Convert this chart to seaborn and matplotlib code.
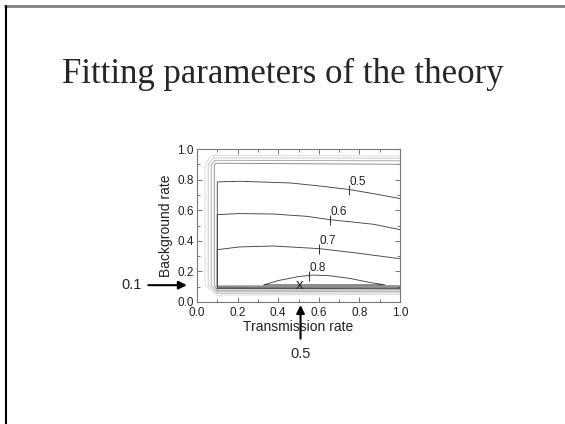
import pandas as pd
import seaborn as sns
import matplotlib.pyplot as plt
from matplotlib.ticker import MultipleLocator

# contour lines (transmission rate, background rate)
levels = ['0.1', '0.2', '0.3', '0.4', '0.5', '0.6', '0.7', '0.8']
c01_x = [1.0, 0.1, 0.04, 0.04, 0.07, 1.0]
c01_y = [0.05, 0.045, 0.11, 0.9, 0.958, 0.955]
c02_x = [1.0, 0.1, 0.055, 0.055, 0.08, 1.0]
c02_y = [0.06, 0.056, 0.11, 0.9, 0.942, 0.94]
c03_x = [1.0, 0.1, 0.07, 0.07, 0.09, 1.0]
c03_y = [0.07, 0.066, 0.11, 0.9, 0.926, 0.923]
c04_x = [1.0, 0.1, 0.085, 0.085, 0.095, 1.0]
c04_y = [0.08, 0.077, 0.11, 0.9, 0.907, 0.9]
c05_x = [1.0, 0.1, 0.1, 0.21, 0.46, 0.62, 0.75, 0.87, 1.0]
c05_y = [0.089, 0.088, 0.785, 0.789, 0.778, 0.756, 0.735, 0.708, 0.676]
c06_x = [1.0, 0.1, 0.1, 0.21, 0.375, 0.54, 0.655, 0.87, 1.0]
c06_y = [0.097, 0.096, 0.571, 0.578, 0.575, 0.56, 0.538, 0.508, 0.473]
c07_x = [1.0, 0.1, 0.1, 0.21, 0.375, 0.6, 0.77, 1.0]
c07_y = [0.105, 0.104, 0.342, 0.36, 0.366, 0.349, 0.323, 0.283]
c08_x = [0.33, 0.4, 0.5, 0.57, 0.65, 0.75, 0.85, 0.925, 0.33]
c08_y = [0.112, 0.14, 0.166, 0.176, 0.172, 0.155, 0.128, 0.112, 0.112]
line_colors = ['#dadada', '#c4c4c4', '#a8a8a8', '#888888',
               '#444444', '#444444', '#444444', '#444444']

# contour labels
label_text = ['0.5', '0.6', '0.7', '0.8']
label_x = [0.75, 0.655, 0.6, 0.55]
label_y = [0.735, 0.538, 0.349, 0.172]

# best fit
best_x = 0.5
best_y = 0.1

xs = [c01_x, c02_x, c03_x, c04_x, c05_x, c06_x, c07_x, c08_x]
ys = [c01_y, c02_y, c03_y, c04_y, c05_y, c06_y, c07_y, c08_y]
df = pd.concat([pd.DataFrame({'x': x, 'y': y, 'level': lv})
                for x, y, lv in zip(xs, ys, levels)], ignore_index=True)

sns.set_style('ticks', {'xtick.direction': 'in', 'ytick.direction': 'in'})
plt.rcParams['font.family'] = ['Liberation Sans', 'DejaVu Sans']

fig = plt.figure(figsize=(5.65, 4.24), dpi=100)
ax = fig.add_axes([197 / 565, 122 / 424, 203 / 565, 153 / 424])

sns.lineplot(data=df, x='x', y='y', hue='level', palette=line_colors,
             sort=False, estimator=None, lw=0.65, legend=False, ax=ax)

# label ticks and text
ax.plot(label_x, label_y, ls='none', marker='|', ms=7, mew=0.7, color='#333333')
for t, lx, ly in zip(label_text, label_x, label_y):
    ax.text(lx + 0.002, ly + 0.012, t, fontsize=8.5, color='#222222', ha='left', va='bottom')

ax.text(best_x + 0.005, best_y + 0.008, 'x', fontsize=11, ha='center', va='center')

ax.set_xlim(0, 1)
ax.set_ylim(0, 1)
ax.xaxis.set_major_locator(MultipleLocator(0.2))
ax.xaxis.set_minor_locator(MultipleLocator(0.1))
ax.yaxis.set_major_locator(MultipleLocator(0.2))
ax.yaxis.set_minor_locator(MultipleLocator(0.1))
ax.xaxis.set_major_formatter('{x:.1f}')
ax.yaxis.set_major_formatter('{x:.1f}')
ax.tick_params(which='both', direction='in', top=True, right=True, color='#777777',
               labelsize=8.5, labelcolor='#222222')
ax.tick_params(axis='x', which='major', pad=3.5)
ax.tick_params(axis='y', which='major', pad=2.5)
ax.tick_params(which='major', length=3.5, width=0.7)
ax.tick_params(which='minor', length=2.5, width=0.7)
for s in ax.spines.values():
    s.set_color('#777777')
    s.set_linewidth(0.8)

ax.set_xlabel('Transmission rate', fontsize=10, color='#222222')
ax.set_ylabel('Background rate', fontsize=10, color='#222222')
ax.xaxis.set_label_coords(0.5, -0.12)
ax.yaxis.set_label_coords(-0.118, 0.5)

# arrows pointing at the fit
ax.annotate('', xy=(-0.05, best_y + 0.01), xytext=(-0.24, best_y + 0.01), annotation_clip=False,
            arrowprops=dict(arrowstyle='-|>', color='black', lw=1.5, mutation_scale=12, shrinkA=0, shrinkB=0))
ax.text(-0.32, best_y + 0.01, '0.1', fontsize=10.5, ha='center', va='center')
ax.annotate('', xy=(best_x + 0.01, -0.02), xytext=(best_x + 0.01, -0.24), annotation_clip=False,
            arrowprops=dict(arrowstyle='-|>', color='black', lw=1.5, mutation_scale=12, shrinkA=0, shrinkB=0))
ax.text(best_x + 0.01, -0.34, '0.5', fontsize=10.5, ha='center', va='center')

# slide title and frame
fig.text(0.5, 1 - 74 / 424, 'Fitting parameters of the theory', fontsize=25,
         family='Liberation Serif', ha='center', va='center')
fig.add_artist(plt.Line2D([5 / 565, 1], [1 - 5.5 / 424] * 2, color='#808080', lw=2))
fig.add_artist(plt.Line2D([5.5 / 565] * 2, [0, 1 - 5.5 / 424], color='black', lw=1.5))

fig.savefig('out.png', dpi=100)
